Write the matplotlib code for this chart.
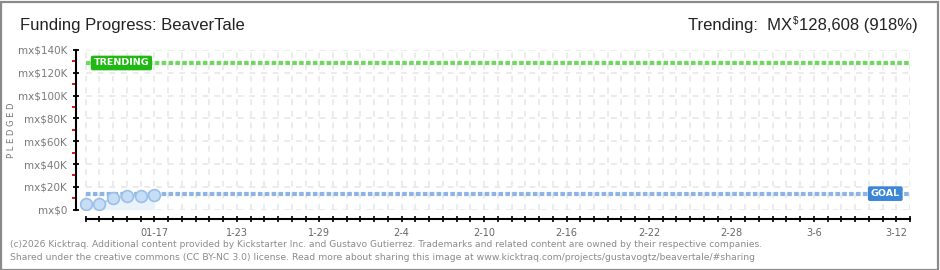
import matplotlib
matplotlib.use("Agg")
import matplotlib.pyplot as plt
import numpy as np

# ---- data ----
days = [0, 1, 2, 3, 4, 5]                      # 01-12 .. 01-17
pledged = [4700, 4700, 9900, 11700, 11700, 12800]
goal = 14000
trending = 128608
n_days = 60                                     # 01-12 .. 03-13
xlabel_days = [5, 11, 17, 23, 29, 35, 41, 47, 53, 59]
xlabel_text = ["01-17", "1-23", "1-29", "2-4", "2-10", "2-16", "2-22", "2-28", "3-6", "3-12"]
ymajor = [0, 20000, 40000, 60000, 80000, 100000, 120000, 140000]
ylabels = ["mx$0", "mx$20K", "mx$40K", "mx$60K", "mx$80K", "mx$100K", "mx$120K", "mx$140K"]
yminor = [10000, 30000, 50000, 70000, 90000, 110000, 130000]

W, H = 940, 270
fig = plt.figure(figsize=(W / 100, H / 100), dpi=100)
fig.patch.set_facecolor("white")

def fx(px):
    return px / W

def fy(py):
    return 1 - py / H

# frame
fig.add_artist(plt.Rectangle((0.5 / W, 0.5 / H), 1 - 2.2 / W, 1 - 2.2 / H,
                             transform=fig.transFigure, fill=False,
                             edgecolor="#8a8a8a", linewidth=1.6))

ax_left, ax_right = 76, 910
y_top, y_zero = 50, 209.6
ax = fig.add_axes([fx(ax_left), fy(y_zero), fx(ax_right - ax_left), (y_zero - y_top) / H])
ax.set_facecolor("white")
px_per_day = (910 - 85.7) / n_days
ax.set_xlim(-(85.7 - 76) / px_per_day, n_days)
ax.set_ylim(0, 140000)

# grid
grid_kw = dict(color="#e8e8e8", linewidth=1.2, linestyles=(0, (3.5, 3.5)), zorder=0)
ax.hlines(ymajor, 0, n_days, **grid_kw)
ax.vlines(np.arange(0, n_days + 1), 0, 140000, **grid_kw)

# spines
for s in ["top", "right"]:
    ax.spines[s].set_visible(False)
ax.spines["left"].set_linewidth(1.5)
ax.spines["bottom"].set_linewidth(1.5)
ax.spines["bottom"].set_position(("outward", 7))
ax.spines["bottom"].set_bounds(0, n_days)

ax.set_yticks(ymajor)
ax.set_yticklabels(ylabels)
ax.set_yticks(yminor, minor=True)
ax.tick_params(axis="y", which="major", direction="inout", length=5, width=1.3,
               color="black", labelsize=7.5, labelcolor="#7a7a7a", pad=4)
ax.tick_params(axis="y", which="minor", direction="out", length=3, width=1.3, color="#e00000")
ax.set_xticks(np.arange(0, n_days + 1))
ax.set_xticklabels([""] * (n_days + 1))
ax.tick_params(axis="x", which="major", direction="inout", length=5, width=1.2, color="black")
for d, t in zip(xlabel_days, xlabel_text):
    ax.annotate(t, xy=(d, 0), xycoords=("data", "axes fraction"), xytext=(0, -17),
                textcoords="offset points", ha="center", va="center",
                fontsize=7, color="#666666")

# trending & goal lines
ax.plot([0, n_days], [trending, trending], color="#70d860", linewidth=3,
        linestyle=(0, (1.1, 0.55)), zorder=3, dash_capstyle="butt")
ax.plot([0, n_days], [goal, goal], color="#8db4e6", linewidth=3,
        linestyle=(0, (1.1, 0.55)), zorder=3, dash_capstyle="butt")

# pledged area + points
ax.fill_between(days, pledged, 0, color="#eaf2fc", zorder=2, linewidth=0)
ax.plot(days, pledged, color="#a9c9ef", linewidth=1.2, zorder=4)
ax.plot(days, pledged, linestyle="none", marker="o", markersize=8.5,
        markerfacecolor="#c6ddf6", markeredgecolor="#9cbfe8", markeredgewidth=1.2, zorder=5)

# labels
ax.text(2.6, trending, "TRENDING", ha="center", va="center", fontsize=6.8,
        fontweight="bold", color="white", zorder=6,
        bbox=dict(boxstyle="round,pad=0.3,rounding_size=0.2", facecolor="#20b812", edgecolor="none"))
ax.text(58.2, goal, "GOAL", ha="center", va="center", fontsize=6.8,
        fontweight="bold", color="white", zorder=6,
        bbox=dict(boxstyle="round,pad=0.3,rounding_size=0.2", facecolor="#3c86d8", edgecolor="none"))

fig.text(fx(12), fy(130), "P L E D G E D", rotation=90, ha="center", va="center",
         fontsize=6, color="#777777")

# titles
title_fam = ["Liberation Sans", "DejaVu Sans"]
fs_title = 12
renderer = fig.canvas.get_renderer()
fig.text(fx(20), fy(30), "Funding Progress: BeaverTale", ha="left", va="baseline",
         fontsize=fs_title, color="#222222", family=title_fam)

t_r = fig.text(fx(918), fy(30), "128,608 (918%)", ha="right", va="baseline",
               fontsize=fs_title, color="#222222", family=title_fam)
bb = t_r.get_window_extent(renderer)
t_d = fig.text((bb.x0 - 1) / W, fy(24), "$", ha="right", va="baseline",
               fontsize=7, color="#222222", family=title_fam)
bb2 = t_d.get_window_extent(renderer)
fig.text((bb2.x0 - 1) / W, fy(30), "Trending:  MX", ha="right", va="baseline",
         fontsize=fs_title, color="#222222", family=title_fam)

# footer
foot1 = ("(c)2026 Kicktraq. Additional content provided by Kickstarter Inc. and Gustavo Gutierrez. "
         "Trademarks and related content are owned by their respective companies.")
foot2 = ("Shared under the creative commons (CC BY-NC 3.0) license. Read more about sharing "
         "this image at www.kicktraq.com/projects/gustavogtz/beavertale/#sharing")
for txt, ypx, target in [(foot1, 247, 765 - 10), (foot2, 260, 757 - 10)]:
    t = fig.text(fx(10), fy(ypx), txt, ha="left", va="baseline", fontsize=7, color="#8a8a8a")
    w = t.get_window_extent(renderer).width
    t.set_fontsize(7 * target / w)

fig.savefig("out.png", dpi=100, facecolor="white")
